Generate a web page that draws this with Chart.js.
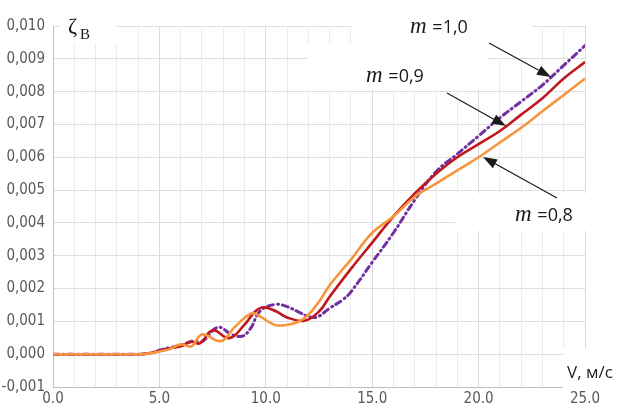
<!DOCTYPE html>
<html>
<head>
<meta charset="utf-8">
<script src="https://cdn.jsdelivr.net/npm/chart.js@4/dist/chart.umd.min.js"></script>
<style>
  html, body { margin: 0; padding: 0; background: #fff; }
  #wrap { width: 623px; height: 408px; position: relative; }
</style>
</head>
<body>
<div id="wrap"><canvas id="myChart"></canvas></div>
<script>
// speed V (m/s) and coefficient zeta for three values of m
const speed08 = [0, 1, 2, 3, 4, 4.3, 4.7, 5.0, 5.5, 6.0, 6.5, 7.0, 7.9, 8.5, 9.0, 9.4, 9.8, 10.4, 10.9, 11.5, 12.0, 12.5, 13.0, 13.5, 14.0, 15.0, 16.0, 17.0, 18.0, 19.0, 20.0, 21.0, 22.0, 23.0, 24.0, 25.0];
const zeta08 = [0, 0, 0, 0, 0, 0.00001, 0.00004, 0.00008, 0.00016, 0.0003, 0.00024, 0.0006, 0.0004, 0.0008, 0.0011, 0.00125, 0.00112, 0.0009, 0.00088, 0.00098, 0.0012, 0.0016, 0.0021, 0.0025, 0.00288, 0.0037, 0.0042, 0.0048, 0.0052, 0.0056, 0.006, 0.00645, 0.0069, 0.0074, 0.0079, 0.0084];

const speed09 = [0, 1, 2, 3, 4, 4.3, 4.7, 5.0, 5.5, 6.0, 6.5, 6.9, 7.5, 8.3, 9.0, 9.5, 9.9, 10.5, 11.0, 11.8, 12.5, 13.0, 14.0, 15.0, 16.0, 17.0, 18.0, 19.0, 20.0, 21.0, 22.0, 23.0, 24.0, 25.0];
const zeta09 = [0, 0, 0, 0, 0, 0.00001, 0.00005, 0.0001, 0.00018, 0.00024, 0.00038, 0.00033, 0.00073, 0.00049, 0.0009, 0.0013, 0.00143, 0.0013, 0.00112, 0.00102, 0.0013, 0.00175, 0.0026, 0.0034, 0.0042, 0.0049, 0.0055, 0.006, 0.0064, 0.0068, 0.0073, 0.0078, 0.0084, 0.0089];

const speed10 = [0, 1, 2, 3, 4, 4.3, 4.7, 5.0, 5.5, 6.0, 6.6, 7.0, 7.75, 8.4, 8.9, 9.3, 9.6, 9.9, 10.5, 11.0, 11.5, 12.0, 12.4, 13.0, 13.6, 14.0, 15.0, 16.0, 17.0, 18.0, 19.0, 20.0, 21.0, 22.0, 23.0, 24.0, 25.0];
const zeta10 = [0, 0, 0, 0, 0, 0.00001, 0.00005, 0.00012, 0.0002, 0.00027, 0.0004, 0.00038, 0.00082, 0.0006, 0.00055, 0.0008, 0.0012, 0.0014, 0.00152, 0.00145, 0.0013, 0.00115, 0.00113, 0.0014, 0.00165, 0.0019, 0.0028, 0.0037, 0.0047, 0.00556, 0.0061, 0.00665, 0.0072, 0.0077, 0.0082, 0.0088, 0.0094];

const mLabels = ['0,8', '0,9', '1,0'];

function toPoints(xs, ys) {
    return xs.map((x, i) => ({ x: x, y: ys[i] }));
}

const tickFont = { family: '"Liberation Sans Narrow", "DejaVu Sans Condensed", sans-serif', size: 15 };

// white patches behind the captions, they hide the grid
const patches = [
    [60, 0, 57, 43],
    [352, 0, 180, 43],
    [308, 43, 180, 47],
    [488, 43, 44, 15],
    [455, 193, 150, 38],
    [563, 348, 60, 40]
];

function arrow(ctx, x1, y1, x2, y2) {
    const a = Math.atan2(y2 - y1, x2 - x1);
    const len = 14, w = 5;
    const bx = x2 - len * Math.cos(a), by = y2 - len * Math.sin(a);
    ctx.beginPath();
    ctx.moveTo(x1, y1);
    ctx.lineTo(bx, by);
    ctx.stroke();
    ctx.beginPath();
    ctx.moveTo(x2, y2);
    ctx.lineTo(bx + w * Math.sin(a), by - w * Math.cos(a));
    ctx.lineTo(bx - w * Math.sin(a), by + w * Math.cos(a));
    ctx.closePath();
    ctx.fill();
}

function mCaption(ctx, x, y, value) {
    ctx.textBaseline = 'alphabetic';
    ctx.textAlign = 'left';
    ctx.font = 'italic 23px "Liberation Serif", serif';
    ctx.fillText('m', x, y);
    const w = ctx.measureText('m ').width;
    ctx.font = '18px "Open Sans", sans-serif';
    ctx.fillText('=' + value, x + w, y);
}

const overlay = {
    id: 'overlay',
    beforeDatasetsDraw(chart) {
        const ctx = chart.ctx;
        ctx.save();
        ctx.fillStyle = '#ffffff';
        patches.forEach(p => ctx.fillRect(p[0], p[1], p[2], p[3]));
        ctx.restore();
    },
    afterDraw(chart) {
        const ctx = chart.ctx;
        ctx.save();
        ctx.fillStyle = '#1a1a1a';
        ctx.strokeStyle = '#1a1a1a';
        ctx.lineWidth = 1.2;

        // axis captions
        ctx.font = '22px "Liberation Serif", serif';
        ctx.textBaseline = 'alphabetic';
        ctx.fillText('ζ', 68, 33);
        ctx.font = '15px "Liberation Serif", serif';
        ctx.fillText('В', 80, 39);
        ctx.font = '17px "Open Sans", sans-serif';
        ctx.fillStyle = '#262626';
        ctx.fillText('V, м/с', 567, 378);

        ctx.fillStyle = '#1a1a1a';
        mCaption(ctx, 410, 33, mLabels[2]);
        mCaption(ctx, 366, 82, mLabels[1]);
        mCaption(ctx, 515, 221, mLabels[0]);

        arrow(ctx, 489, 43, 551, 77);
        arrow(ctx, 447, 93, 506, 126);
        arrow(ctx, 557, 198, 483, 157);
        ctx.restore();
    }
};

const ctx = document.getElementById('myChart').getContext('2d');
const chart = new Chart(ctx, {
    type: 'line',
    data: {
        datasets: [{
            label: 'm = ' + mLabels[0],
            data: toPoints(speed08, zeta08),
            borderColor: '#F7953E',
            borderWidth: 2.6,
            pointRadius: 0,
            tension: 0.4
        }, {
            label: 'm = ' + mLabels[1],
            data: toPoints(speed09, zeta09),
            borderColor: '#C0171E',
            borderWidth: 2.6,
            pointRadius: 0,
            tension: 0.4
        }, {
            label: 'm = ' + mLabels[2],
            data: toPoints(speed10, zeta10),
            borderColor: '#7030A0',
            borderWidth: 3,
            borderDash: [6, 4, 1, 4],
            borderCapStyle: 'round',
            pointRadius: 0,
            tension: 0.4
        }]
    },
    options: {
        responsive: true,
        maintainAspectRatio: false,
        animation: false,
        layout: { padding: { top: 26, right: 38, left: 0, bottom: 0 } },
        plugins: {
            legend: { display: false },
            tooltip: { enabled: false }
        },
        scales: {
            x: {
                type: 'linear',
                min: 0,
                max: 25,
                afterFit: s => { s.height = 21; },
                ticks: {
                    stepSize: 1,
                    autoSkip: false,
                    maxRotation: 0,
                    padding: 3,
                    color: '#595959',
                    font: tickFont,
                    callback: v => (v % 5 === 0 ? v.toFixed(1) : '')
                },
                grid: {
                    drawTicks: false,
                    color: c => (c.tick && c.tick.value % 5 === 0 ? '#d9d9d9' : '#ececec'),
                    lineWidth: 1
                },
                border: { display: false }
            },
            y: {
                min: -0.001,
                max: 0.010,
                afterFit: s => { s.width = 53; },
                ticks: {
                    stepSize: 0.001,
                    padding: 8,
                    color: '#595959',
                    font: tickFont,
                    callback: v => v.toFixed(3).replace('.', ',')
                },
                grid: {
                    drawTicks: false,
                    color: c => (c.tick && Math.abs(c.tick.value + 0.001) < 1e-9 ? '#bfbfbf' : '#dedede'),
                    lineWidth: 1
                },
                border: { display: true, color: '#bfbfbf' }
            }
        }
    },
    plugins: [overlay]
});
</script>
</body>
</html>
